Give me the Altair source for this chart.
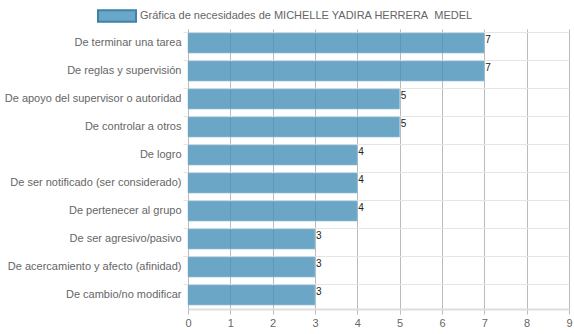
import altair as alt
import pandas as pd

categories = [
    "De terminar una tarea",
    "De reglas y supervisión",
    "De apoyo del supervisor o autoridad",
    "De controlar a otros",
    "De logro",
    "De ser notificado (ser considerado)",
    "De pertenecer al grupo",
    "De ser agresivo/pasivo",
    "De acercamiento y afecto (afinidad)",
    "De cambio/no modificar",
]
values = [7, 7, 5, 5, 4, 4, 4, 3, 3, 3]
series_name = "Gráfica de necesidades de MICHELLE YADIRA HERRERA\u00a0 MEDEL"
x_ticks = list(range(0, 10))

df = pd.DataFrame({"cat": categories, "val": values, "serie": [series_name] * len(values)})

FONT = "Liberation Sans"
FS = 11

base = alt.Chart(df)

bars = base.mark_bar(fillOpacity=0.8, stroke="#9cc6dc", strokeWidth=1, strokeOpacity=0.6).encode(
    y=alt.Y("cat:N", sort=categories, title=None,
            scale=alt.Scale(paddingInner=0.28, paddingOuter=0.14),
            axis=alt.Axis(labelFont=FONT, labelFontSize=FS, labelColor="#666666",
                          tickSize=5, tickColor="#e5e5e5", labelPadding=2,
                          domainColor="#bbbbbb", gridColor="#e5e5e5", grid=True,
                          bandPosition=0, labelLimit=200)),
    x=alt.X("val:Q", title=None,
            scale=alt.Scale(domain=[0, 9], nice=False),
            axis=alt.Axis(values=x_ticks, labelFont=FONT, labelFontSize=FS, labelColor="#666666",
                          tickSize=5, tickColor="#bbbbbb", gridColor="#bbbbbb", grid=True,
                          domainColor="#dddddd", domainWidth=2, labelPadding=3, labelFlush=False)),
    color=alt.Color("serie:N", scale=alt.Scale(range=["#4690b8"]),
                    legend=alt.Legend(title=None, orient="none", legendX=-91, legendY=-33,
                                      symbolType="M-1,-0.3H1V0.3H-1Z", symbolSize=1444,
                                      symbolStrokeColor="#0e6395", symbolStrokeWidth=2,
                                      symbolOpacity=0.8,
                                      labelFont=FONT, labelFontSize=FS, labelColor="#666666",
                                      labelOffset=3, padding=0, labelLimit=400)),
)

labels = base.mark_text(align="left", baseline="middle", dx=1, dy=-3, font=FONT,
                        fontSize=10, color="#222222").encode(
    y=alt.Y("cat:N", sort=categories),
    x=alt.X("val:Q"),
    text=alt.Text("val:Q"),
)

chart = alt.layer(bars, labels).properties(
    width=381, height=280,
    autosize=alt.AutoSizeParams(type="none"),
    padding={"left": 188, "top": 29, "right": 5, "bottom": 25},
).configure_view(stroke=None)

chart.save("out.html", embed_options={"renderer": "svg", "actions": False})
